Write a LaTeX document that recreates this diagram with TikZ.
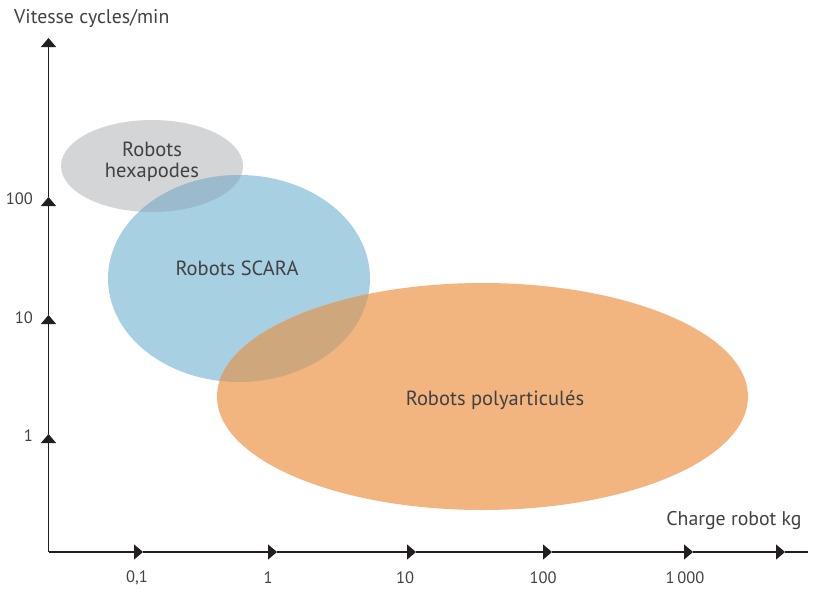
\documentclass[tikz,border=0pt]{standalone}
\usepackage{fontspec}
\setmainfont{PT Sans}
\usetikzlibrary{arrows.meta,positioning}

\definecolor{gristxt}{HTML}{414042}
\definecolor{noiraxe}{HTML}{231F20}
\definecolor{grishexa}{HTML}{D4D5D7}
\definecolor{bleuscara}{HTML}{A7D0E3}
\definecolor{orangepoly}{HTML}{F3B580}
\definecolor{grisbleu}{HTML}{9BBACB}
\definecolor{bleuorange}{HTML}{CFA77D}

\begin{document}
\begin{tikzpicture}[
  x=1pt, y=-1pt,
  >={Triangle[length=9pt,width=15pt]},
  every node/.style={inner sep=0pt,text=gristxt},
  axe/.style={line width=1.4pt,draw=noiraxe},
  lbl/.style={font=\fontsize{16.5}{19}\selectfont},
  titre/.style={font=\fontsize{19.8}{22}\selectfont},
  zone/.style={font=\fontsize{20.5}{21}\selectfont,align=center},
  ]
  \useasboundingbox (0,0) rectangle (815,592);

  % zones
  \fill[grishexa] (152,166) ellipse [x radius=91pt, y radius=46pt];
  \fill[bleuscara] (239,278.5) ellipse [x radius=131pt, y radius=103.5pt];
  \fill[orangepoly] (482.5,396.5) ellipse [x radius=265.5pt, y radius=113.5pt];
  \begin{scope}
    \clip (239,278.5) ellipse [x radius=131pt, y radius=103.5pt];
    \fill[grisbleu] (152,166) ellipse [x radius=91pt, y radius=46pt];
    \fill[bleuorange] (482.5,396.5) ellipse [x radius=265.5pt, y radius=113.5pt];
  \end{scope}

  \node[zone] (hexa) at (152,162) {Robots\\hexapodes};
  \node[zone] (scara) at (237,268) {Robots SCARA};
  \node[zone] (poly) at (495,400) {Robots polyarticulés};

  % axes
  \coordinate (O) at (48.5,552);
  \coordinate (y1) at (48.5,434);
  \coordinate (y10) at (48.5,315);
  \coordinate (y100) at (48.5,197);
  \coordinate (ytop) at (48.5,38);
  \coordinate (x01) at (143,552);
  \coordinate (x1) at (277,552);
  \coordinate (x10) at (416,552);
  \coordinate (x100) at (552,552);
  \coordinate (x1000) at (693,552);
  \coordinate (xfin) at (785,552);
  \coordinate (xbout) at (808,552);

  \draw[axe,->] (O) -- (y1);
  \draw[axe,->] (y1) -- (y10);
  \draw[axe,->] (y10) -- (y100);
  \draw[axe,->] (y100) -- (ytop);
  \draw[axe,->] (O) -- (x01);
  \draw[axe,->] (x01) -- (x1);
  \draw[axe,->] (x1) -- (x10);
  \draw[axe,->] (x10) -- (x100);
  \draw[axe,->] (x100) -- (x1000);
  \draw[axe,->] (x1000) -- (xfin);
  \draw[axe] (xfin) -- (xbout);

  % graduations
  \node[lbl,anchor=east] (l1) at (33,436) {1};
  \node[lbl,anchor=east] (l10) at (33,318) {10};
  \node[lbl,anchor=east] (l100) at (33,199) {100};
  \node[lbl] (m01) at (137,578) {0,1};
  \node[lbl] (m1) at (268,578) {1};
  \node[lbl] (m10) at (405,578) {10};
  \node[lbl] (m100) at (543,578) {100};
  \node[lbl] (m1000) at (685,578) {1\,000};

  \node[titre,anchor=west] (vitesse) at (14,18) {Vitesse cycles/min};
  \node[titre] (charge) at (734,521) {Charge robot kg};
\end{tikzpicture}
\end{document}
